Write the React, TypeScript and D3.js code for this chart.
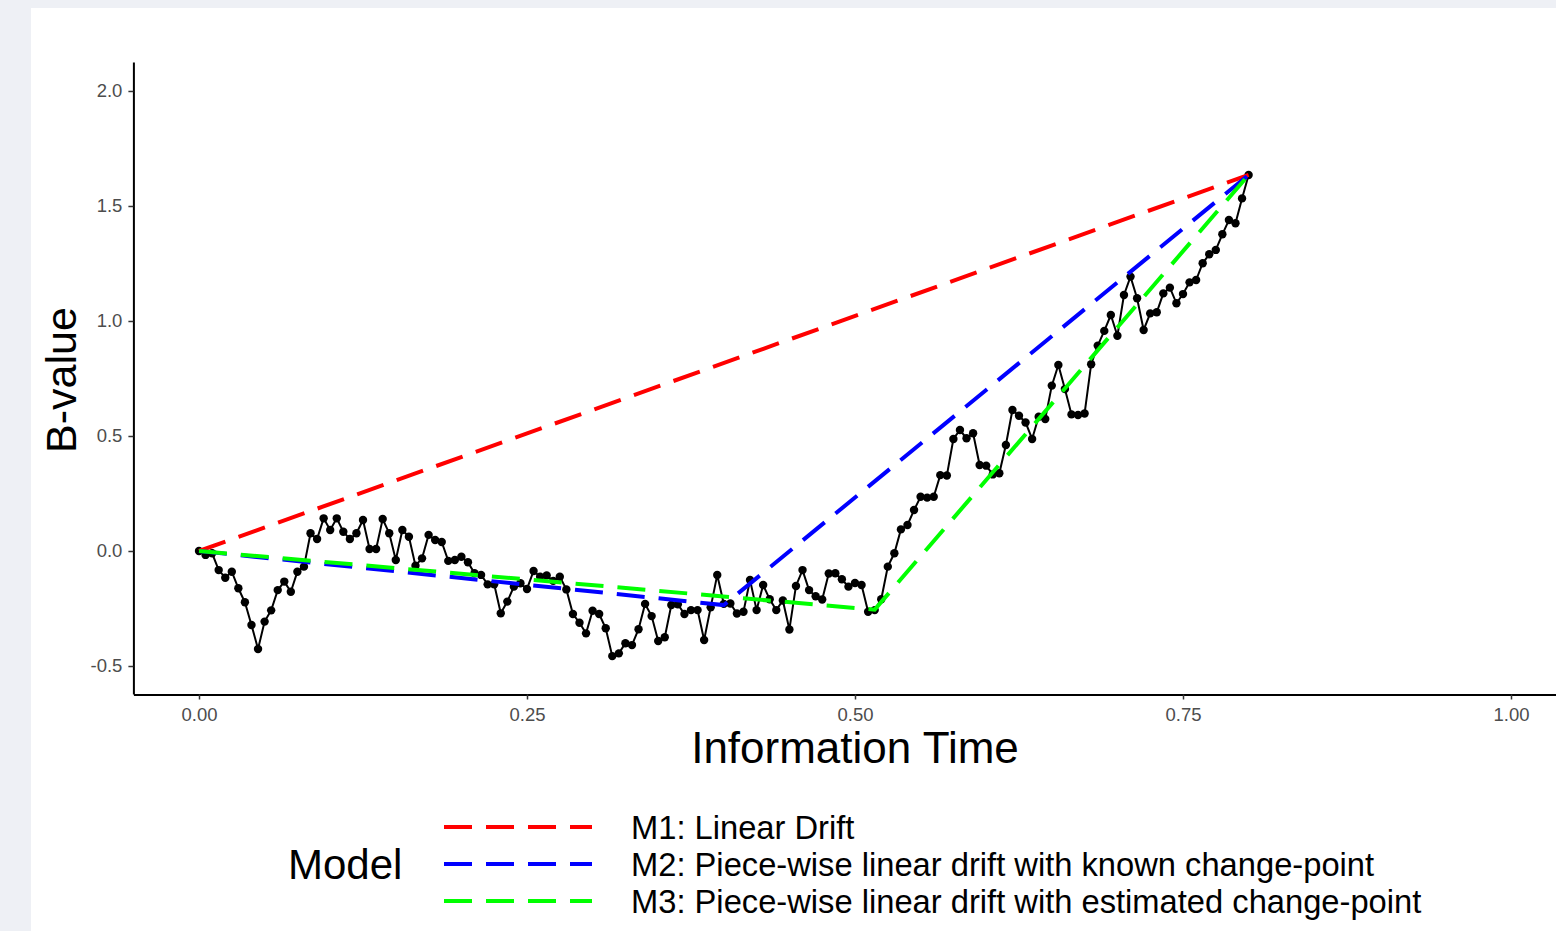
import * as d3 from 'd3';
import React, { useEffect, useRef } from 'react';

// observed B-values, one every 0.005 of information time (0 .. 0.8)
const bValues = [
  0, -0.017, -0.01, -0.083, -0.116, -0.09, -0.162, -0.223, -0.322, -0.426,
  -0.307, -0.258, -0.17, -0.133, -0.177, -0.09, -0.068, 0.077, 0.052, 0.142,
  0.091, 0.142, 0.084, 0.052, 0.077, 0.135, 0.009, 0.009, 0.139, 0.077,
  -0.039, 0.091, 0.062, -0.064, -0.032, 0.07, 0.048, 0.039, -0.043, -0.039,
  -0.025, -0.049, -0.097, -0.104, -0.145, -0.145, -0.271, -0.22, -0.155, -0.14,
  -0.165, -0.087, -0.112, -0.106, -0.13, -0.112, -0.167, -0.274, -0.312, -0.358,
  -0.26, -0.274, -0.336, -0.457, -0.445, -0.401, -0.409, -0.34, -0.23, -0.283,
  -0.391, -0.375, -0.235, -0.232, -0.274, -0.257, -0.257, -0.387, -0.245, -0.104,
  -0.23, -0.228, -0.272, -0.264, -0.126, -0.257, -0.148, -0.21, -0.257, -0.215,
  -0.341, -0.152, -0.083, -0.17, -0.197, -0.211, -0.098, -0.097, -0.123, -0.155,
  -0.139, -0.148, -0.264, -0.257, -0.21, -0.068, -0.01, 0.094, 0.113, 0.178,
  0.236, 0.232, 0.236, 0.33, 0.328, 0.487, 0.526, 0.49, 0.512, 0.374,
  0.371, 0.333, 0.338, 0.461, 0.613, 0.588, 0.559, 0.487, 0.584, 0.574,
  0.719, 0.809, 0.704, 0.594, 0.591, 0.598, 0.812, 0.893, 0.957, 1.026,
  0.936, 1.113, 1.193, 1.099, 0.961, 1.033, 1.038, 1.12, 1.145, 1.077,
  1.117, 1.168, 1.178, 1.251, 1.29, 1.309, 1.377, 1.439, 1.425, 1.533,
  1.635,
];
const timeStep = 0.005;
const infoTime = bValues.map((_, i) => i * timeStep);

// fitted drift models (knots)
const m1Time = [0, 0.8];
const m1Value = [0, 1.635];
const m2Time = [0, 0.4, 0.8];
const m2Value = [0, -0.235, 1.635];
const m3Time = [0, 0.515, 0.8];
const m3Value = [0, -0.255, 1.635];

const modelLabels = [
  'M1: Linear Drift',
  'M2: Piece-wise linear drift with known change-point',
  'M3: Piece-wise linear drift with estimated change-point',
];
const modelColors = ['#ff0000', '#0000ff', '#00ff00'];

const xTicks = [0, 0.25, 0.5, 0.75, 1];
const yTicks = [-0.5, 0, 0.5, 1, 1.5, 2];
const yTickLabels = ['-0.5', '0.0', '0.5', '1.0', '1.5', '2.0'];
const xTickLabels = ['0.00', '0.25', '0.50', '0.75', '1.00'];

const W = 1556;
const H = 931;
const FONT = '"Liberation Sans", Arial, sans-serif';
const DASH = '28,14';

const BChart = () => {
  const svgRef = useRef<SVGSVGElement>(null);

  useEffect(() => {
    const svg = d3.select(svgRef.current);
    svg.selectAll('*').remove();

    const x = d3.scaleLinear().domain([-0.05, 1.0343]).range([133.4, 1556]);
    const y = d3.scaleLinear().domain([-0.6217, 2.126]).range([694, 62]);

    svg.append('rect').attr('width', W).attr('height', H).attr('fill', '#eef0f5');
    svg.append('rect').attr('x', 31).attr('y', 8).attr('width', W - 31).attr('height', H - 8).attr('fill', '#fff');

    // axes
    const yAxis = svg
      .append('g')
      .attr('transform', 'translate(133.4,0)')
      .call(
        d3.axisLeft(y).tickValues(yTicks)
          .tickFormat((d, i) => yTickLabels[i])
          .tickSize(5).tickSizeOuter(0).tickPadding(6),
      );
    const xAxis = svg
      .append('g')
      .attr('transform', 'translate(0,694.5)')
      .call(
        d3.axisBottom(x).tickValues(xTicks)
          .tickFormat((d, i) => xTickLabels[i])
          .tickSize(5).tickSizeOuter(0).tickPadding(8),
      );
    [xAxis, yAxis].forEach((g) => {
      g.select('.domain').attr('stroke', '#000').attr('stroke-width', 2);
      g.selectAll('.tick line').attr('stroke', '#333').attr('stroke-width', 1.5);
      g.selectAll('.tick text')
        .attr('fill', '#4d4d4d')
        .style('font-family', FONT)
        .style('font-size', '18.5px');
    });

    // observed path
    const line = d3
      .line<number>()
      .x((_, i) => x(infoTime[i]))
      .y((d) => y(d));
    svg
      .append('path')
      .datum(bValues)
      .attr('d', line)
      .attr('fill', 'none')
      .attr('stroke', '#000')
      .attr('stroke-width', 2);
    svg
      .selectAll('.pt')
      .data(bValues)
      .join('circle')
      .attr('class', 'pt')
      .attr('cx', (_, i) => x(infoTime[i]))
      .attr('cy', (d) => y(d))
      .attr('r', 4.2)
      .attr('fill', '#000');

    // model lines
    const models = [
      [m1Time, m1Value],
      [m2Time, m2Value],
      [m3Time, m3Value],
    ];
    models.forEach(([ts, vs], k) => {
      const l = d3
        .line<number>()
        .x((_, i) => x(ts[i]))
        .y((d) => y(d));
      svg
        .append('path')
        .datum(vs)
        .attr('d', l)
        .attr('fill', 'none')
        .attr('stroke', modelColors[k])
        .attr('stroke-width', 4)
        .attr('stroke-dasharray', DASH);
    });

    // axis titles
    svg
      .append('text')
      .attr('x', 855)
      .attr('y', 763)
      .attr('text-anchor', 'middle')
      .style('font-family', FONT)
      .style('font-size', '44px')
      .text('Information Time');
    svg
      .append('text')
      .attr('transform', 'translate(76,380) rotate(-90)')
      .attr('text-anchor', 'middle')
      .style('font-family', FONT)
      .style('font-size', '43px')
      .text('B-value');

    // legend
    svg
      .append('text')
      .attr('x', 288)
      .attr('y', 879)
      .style('font-family', FONT)
      .style('font-size', '42px')
      .text('Model');
    const rows = [827, 864, 901];
    modelLabels.forEach((lab, k) => {
      svg
        .append('line')
        .attr('x1', 444)
        .attr('x2', 592)
        .attr('y1', rows[k])
        .attr('y2', rows[k])
        .attr('stroke', modelColors[k])
        .attr('stroke-width', 4)
        .attr('stroke-dasharray', DASH);
      svg
        .append('text')
        .attr('x', 631)
        .attr('y', rows[k] + 11.7)
        .style('font-family', FONT)
        .style('font-size', '32.7px')
        .text(lab);
    });
  }, []);

  return <svg ref={svgRef} width={W} height={H} style={{ display: 'block' }} />;
};

export default function App() {
  return (
    <div style={{ position: 'fixed', left: 0, top: 0 }}>
      <BChart />
    </div>
  );
}
